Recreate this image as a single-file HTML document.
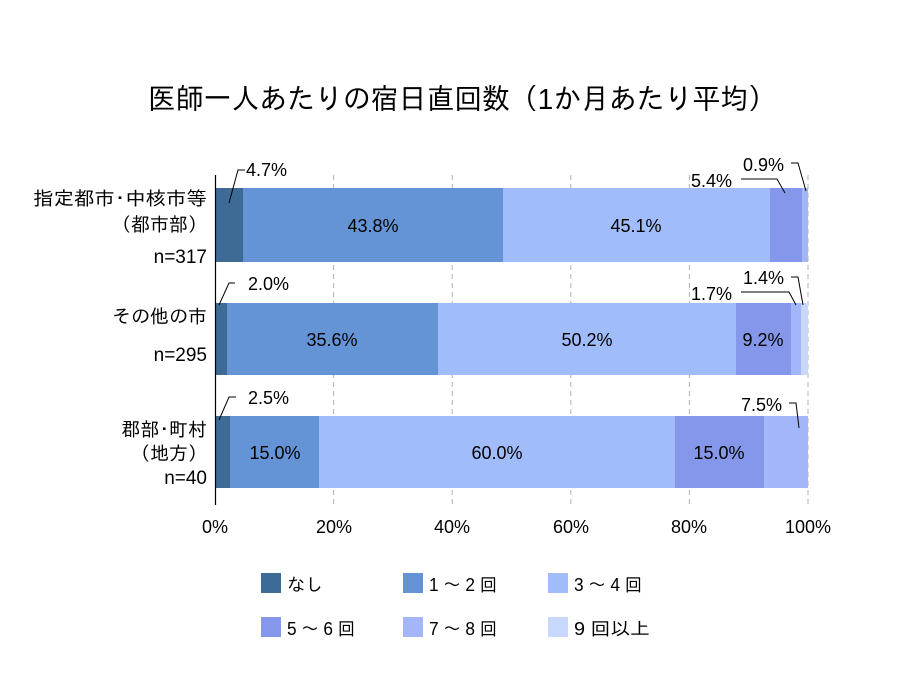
<!DOCTYPE html>
<html><head><meta charset="utf-8"><style>
body{margin:0;background:#fff}
svg text{font-family:"Liberation Sans","IPAGothic","Noto Sans CJK JP",sans-serif;fill:#000}
</style></head><body>
<svg width="918" height="695" viewBox="0 0 918 695" xmlns="http://www.w3.org/2000/svg">
<rect width="918" height="695" fill="#fff"/>
<text x="462" y="109" font-size="29" text-anchor="middle" textLength="628" lengthAdjust="spacingAndGlyphs">医師一人あたりの宿日直回数（1か月あたり平均）</text>
<g stroke="#b0b0b0" stroke-dasharray="5,4" stroke-width="1">
<line x1="333.6" y1="175" x2="333.6" y2="505"/>
<line x1="452.2" y1="175" x2="452.2" y2="505"/>
<line x1="570.8" y1="175" x2="570.8" y2="505"/>
<line x1="689.4" y1="175" x2="689.4" y2="505"/>
<line x1="808" y1="175" x2="808" y2="505"/>
</g>
<rect x="215" y="188" width="28" height="74" fill="#3d6b96"/>
<rect x="243" y="188" width="260" height="74" fill="#6494d6"/>
<rect x="503" y="188" width="267" height="74" fill="#a0bcfa"/>
<rect x="770" y="188" width="32" height="74" fill="#8497ea"/>
<rect x="802" y="188" width="6" height="74" fill="#a4b6fa"/>
<rect x="215" y="303" width="12" height="72" fill="#3d6b96"/>
<rect x="227" y="303" width="211" height="72" fill="#6494d6"/>
<rect x="438" y="303" width="298" height="72" fill="#a0bcfa"/>
<rect x="736" y="303" width="55" height="72" fill="#8497ea"/>
<rect x="791" y="303" width="10" height="72" fill="#a4b6fa"/>
<rect x="801" y="303" width="7" height="72" fill="#c8d8fc"/>
<rect x="215" y="416" width="15" height="72" fill="#3d6b96"/>
<rect x="230" y="416" width="89" height="72" fill="#6494d6"/>
<rect x="319" y="416" width="356" height="72" fill="#a0bcfa"/>
<rect x="675" y="416" width="89" height="72" fill="#8497ea"/>
<rect x="764" y="416" width="44" height="72" fill="#a4b6fa"/>
<line x1="215.5" y1="175" x2="215.5" y2="505" stroke="#000" stroke-width="1.2"/>
<g font-size="18" text-anchor="middle">
<text x="373" y="232">43.8%</text><text x="636" y="232">45.1%</text>
<text x="332" y="346">35.6%</text><text x="587" y="346">50.2%</text><text x="763" y="346">9.2%</text>
<text x="275" y="459">15.0%</text><text x="497" y="459">60.0%</text><text x="719" y="459">15.0%</text>
</g>
<g font-size="18">
<text x="246" y="176">4.7%</text>
<text x="248" y="290">2.0%</text>
<text x="248" y="404">2.5%</text>
<text x="691" y="187">5.4%</text>
<text x="743" y="171">0.9%</text>
<text x="691" y="300">1.7%</text>
<text x="743" y="284">1.4%</text>
<text x="741" y="411">7.5%</text>
</g>
<g stroke="#000" stroke-width="1" fill="none">
<polyline points="229,203 238,170 245,170"/>
<polyline points="219,305 229,283 235,283"/>
<polyline points="219,420 229,397 236,397"/>
<polyline points="741,179 777,179 785,193"/>
<polyline points="791,163 798,163 806,191"/>
<polyline points="741,292 789,292 796,305"/>
<polyline points="791,277 798,277 803,305"/>
<polyline points="789,403 796,403 799,428"/>
</g>
<g font-size="19" text-anchor="end">
<text x="207" y="205" textLength="174" lengthAdjust="spacingAndGlyphs">指定都市･中核市等</text>
<text x="207" y="231">（都市部）</text>
<text x="207" y="263">n=317</text>
<text x="207" y="323">その他の市</text>
<text x="207" y="361">n=295</text>
<text x="207" y="436">郡部･町村</text>
<text x="207" y="460">（地方）</text>
<text x="207" y="484">n=40</text>
</g>
<g font-size="18" text-anchor="middle">
<text x="215" y="533">0%</text><text x="334" y="533">20%</text><text x="452" y="533">40%</text>
<text x="571" y="533">60%</text><text x="689" y="533">80%</text><text x="808" y="533">100%</text>
</g>
<rect x="261" y="573" width="20" height="20" fill="#3d6b96"/>
<rect x="403" y="573" width="20" height="20" fill="#6494d6"/>
<rect x="548" y="573" width="20" height="20" fill="#a0bcfa"/>
<rect x="261" y="617" width="20" height="20" fill="#8497ea"/>
<rect x="403" y="617" width="20" height="20" fill="#a4b6fa"/>
<rect x="548" y="617" width="20" height="20" fill="#c8d8fc"/>
<g font-size="18">
<text x="287" y="591">なし</text>
<text x="429" y="591" textLength="68" lengthAdjust="spacingAndGlyphs">1 ～ 2 回</text>
<text x="574" y="591" textLength="68" lengthAdjust="spacingAndGlyphs">3 ～ 4 回</text>
<text x="287" y="635" textLength="68" lengthAdjust="spacingAndGlyphs">5 ～ 6 回</text>
<text x="429" y="635" textLength="68" lengthAdjust="spacingAndGlyphs">7 ～ 8 回</text>
<text x="574" y="635" textLength="76" lengthAdjust="spacingAndGlyphs">9 回以上</text>
</g>
</svg>
</body></html>
